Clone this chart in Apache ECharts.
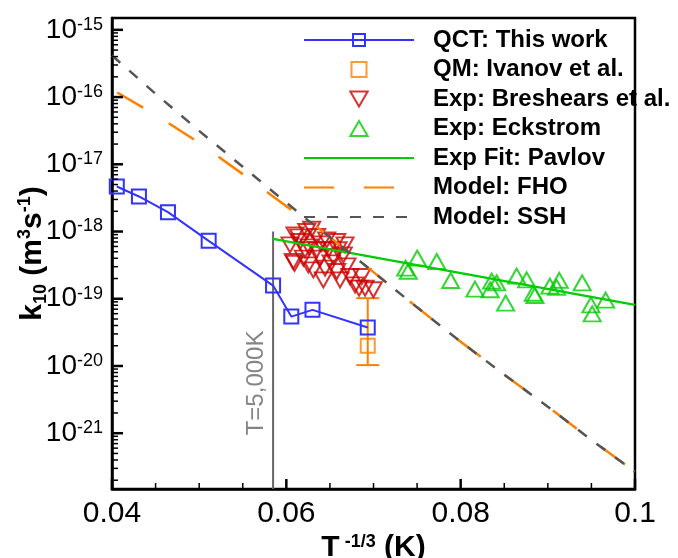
<!DOCTYPE html>
<html><head><meta charset="utf-8">
<script src="https://cdn.jsdelivr.net/npm/echarts@6/dist/echarts.min.js"></script>
<style>html,body{margin:0;padding:0;background:#fff}#c{width:678px;height:558px}</style>
</head><body><div id="c"></div>
<script>
const FONT = 'Liberation Sans';

// QCT: This work
const qctX = [0.04055, 0.04309, 0.04642, 0.05109, 0.05848, 0.06057, 0.06300, 0.06934];
const qctY = [4.67e-18, 3.32e-18, 1.94e-18, 7.27e-19, 1.57e-19, 5.43e-20, 6.84e-20, 3.73e-20];

// QM: Ivanov et al. (with error bar)
const qmX = [0.06934];
const qmY = [2.0e-20];
const qmLow = [1.03e-20];
const qmHigh = [1.02e-19];

// Exp: Breshears et al.
const bresX = [0.06100,0.06234,0.06291,0.06349,0.06157,0.06042,0.06463,0.06578,0.06673,0.06214,
               0.06349,0.06482,0.06080,0.06195,0.06386,0.06539,0.06654,0.06310,0.06444,0.06578,
               0.06616,0.06730,0.06788,0.06903,0.06424,0.06252,0.06865,0.06998,0.06834,0.06142,
               0.06094,0.06398,0.06260,0.06513,0.06696,0.06593];
const bresY = [8.93e-19,1.00e-18,1.08e-18,8.43e-19,7.10e-19,6.34e-19,7.52e-19,7.10e-19,6.34e-19,5.35e-19,
               5.35e-19,5.35e-19,3.58e-19,4.02e-19,4.02e-19,4.25e-19,4.50e-19,2.69e-19,2.85e-19,2.54e-19,
               1.91e-19,2.14e-19,1.61e-19,1.44e-19,1.91e-19,3.19e-19,2.14e-19,1.36e-19,1.44e-19,8.34e-19,
               3.36e-19,6.56e-19,5.92e-19,3.42e-19,3.09e-19,5.35e-19];

// Exp: Eckstrom
const eckX = [0.07369,0.07399,0.07502,0.07725,0.07885,0.08164,0.08356,0.08413,0.08339,0.08516,
              0.08642,0.08757,0.08833,0.08852,0.09024,0.09131,0.09101,0.09394,0.09494,0.09509,0.09663];
const eckY = [2.85e-19,2.56e-19,4.02e-19,3.58e-19,1.87e-19,1.39e-19,1.83e-19,1.72e-19,1.36e-19,8.6e-20,
              2.17e-19,1.91e-19,1.21e-19,1.12e-19,1.54e-19,1.88e-19,1.48e-19,1.72e-19,8.11e-20,5.96e-20,9.53e-20];

// Exp Fit: Pavlov
const pavX = [0.05848, 0.1];
const pavY = [7.78e-19, 8.11e-20];

// Model: FHO
const fhoX = [0.0406,0.045,0.05,0.055,0.06,0.0625,0.065,0.07,0.075,0.08,0.085,0.09,0.095,0.1];
const fhoY = [1.17e-16,5.43e-17,2.09e-17,7.14e-18,2.37e-18,1.46e-18,8.26e-19,2.49e-19,7.45e-20,2.3e-20,7.43e-21,2.48e-21,7.92e-22,2.68e-22];

// Model: SSH
const sshX = [0.04,0.045,0.05,0.055,0.06,0.0625,0.065,0.07,0.075,0.08,0.085,0.09,0.095,0.1];
const sshY = [4.16e-16,1.12e-16,3.14e-17,9.2e-18,2.69e-18,1.46e-18,8.26e-19,2.49e-19,7.45e-20,2.3e-20,7.43e-21,2.48e-21,7.92e-22,2.68e-22];

// T = 5,000 K marker line
const t5000X = [0.05848, 0.05848];
const t5000Y = [1.0e-18, 1.48e-22];
const t5000LabelPos = [0.05848, 5.5e-21];

// axis ranges and ticks
const X_MIN = 0.04, X_MAX = 0.1, X_STEP = 0.02;
const Y_MIN = 1.48e-22, Y_MAX = 1.5e-15;
const xMajorTicks = [0.04, 0.06, 0.08, 0.1];
const xMinorTicks = [0.045, 0.05, 0.055, 0.065, 0.07, 0.075, 0.085, 0.09, 0.095];
const decadeExps = [-22, -21, -20, -19, -18, -17, -16, -15];
const minorMantissas = [2, 3, 4, 5, 6, 7, 8, 9];

const legendNames = ['QCT: This work','QM: Ivanov et al.','Exp: Breshears et al.','Exp: Eckstrom','Exp Fit: Pavlov','Model: FHO','Model: SSH'];

const zip = (xs, ys) => xs.map((x, i) => [x, ys[i]]);
const CLEAR = 'rgba(0,0,0,0)';
const BLUE = '#3333ff', ORANGE = '#ff8000', RED = '#cc0000', GREEN = '#00cc00', GRAY = '#555555';

const yMajorVals = [], yMinorVals = [];
decadeExps.forEach(e => {
  const d = Math.pow(10, e);
  if (d > Y_MIN && d < Y_MAX) yMajorVals.push([X_MIN, d]);
  minorMantissas.forEach(m => {
    const v = m * d;
    if (v > Y_MIN && v < Y_MAX) yMinorVals.push([X_MIN, v]);
  });
});
const xMajorVals = xMajorTicks.map(v => [v, Y_MIN]);
const xMinorVals = xMinorTicks.map(v => [v, Y_MIN]);

// tick renderer: dir 'x' = tick on bottom axis pointing up, 'y' = tick on left axis pointing right
function tickSeries(name, data, dir, len, width) {
  return {name, type: 'custom', data, silent: true, clip: false, z: 6,
    renderItem: (params, api) => {
      const p = api.coord([api.value(0), api.value(1)]);
      const shape = dir === 'x' ? {x1: p[0], y1: p[1], x2: p[0], y2: p[1] - len}
                                : {x1: p[0], y1: p[1], x2: p[0] + len, y2: p[1]};
      return {type: 'line', shape, style: {stroke: '#000', lineWidth: width}};
    }};
}

const ICON_SQUARE = 'path://M0,0H12V12H0Z';
const ICON_UP = 'path://M10,0L20,17.3L0,17.3Z';
const ICON_DOWN = 'path://M0,0L20,0L10,17.3Z';
const legendData = legendNames.map(n => {
  if (n === 'QM: Ivanov et al.') return {name: n, icon: ICON_SQUARE};
  if (n === 'Exp: Breshears et al.') return {name: n, icon: ICON_DOWN};
  if (n === 'Exp: Eckstrom') return {name: n, icon: ICON_UP};
  return {name: n};
});

const chart = echarts.init(document.getElementById('c'), null, {renderer: 'canvas'});
const option = {
  animation: false,
  grid: {left: 112, right: 43, top: 18, bottom: 69, show: true, borderColor: '#000', borderWidth: 2.5,
         backgroundColor: CLEAR, outerBoundsMode: 'none', containLabel: false},
  legend: {
    data: legendData, orient: 'vertical', left: 303, top: 28, padding: 0,
    itemWidth: 110, itemHeight: 15, itemGap: 5.5, selectedMode: false, symbolKeepAspect: true,
    textStyle: {fontSize: 24, fontWeight: 'bold', fontFamily: FONT, color: '#000', lineHeight: 24, padding: [0, 0, 0, 14]}
  },
  xAxis: {
    type: 'value', min: X_MIN, max: X_MAX, interval: X_STEP,
    axisLine: {show: true, lineStyle: {color: '#000', width: 2.5}},
    axisTick: {show: false},
    minorTick: {show: false},
    splitLine: {show: false},
    axisLabel: {fontSize: 30, color: '#000', fontFamily: FONT, margin: 10},
    name: '{b|T}{sup| -1/3}{b| (K)}', nameLocation: 'middle', nameGap: 44, nameMoveOverlap: false,
    nameTextStyle: {rich: {
      b: {fontSize: 30, fontWeight: 'bold', fontFamily: FONT, color: '#000', lineHeight: 30, verticalAlign: 'bottom'},
      sup: {fontSize: 18, fontWeight: 'bold', fontFamily: FONT, color: '#000', lineHeight: 18, verticalAlign: 'top'}
    }}
  },
  yAxis: {
    type: 'log', logBase: 10, min: Y_MIN, max: Y_MAX, splitNumber: 7,
    axisLine: {show: true, lineStyle: {color: '#000', width: 2.5}},
    axisTick: {show: false},
    minorTick: {show: false},
    splitLine: {show: false},
    axisLabel: {
      showMinLabel: false, showMaxLabel: false, margin: 9,
      formatter: v => { const e = Math.log10(v); const r = Math.round(e); if (Math.abs(e - r) > 1e-6) return ''; return '{b|10}{s|' + r + '}'; },
      rich: {
        b: {fontSize: 28, lineHeight: 28, fontFamily: FONT, color: '#000', verticalAlign: 'middle'},
        s: {fontSize: 18, lineHeight: 18, fontFamily: FONT, color: '#000', verticalAlign: 'top'}
      }
    },
    name: '{b|k}{sub|10}{b| (m}{sup|3}{b|s}{sup|-1}{b|)}', nameLocation: 'middle', nameGap: 62, nameMoveOverlap: false,
    nameTextStyle: {rich: {
      b: {fontSize: 30, fontWeight: 'bold', fontFamily: FONT, color: '#000', lineHeight: 34, verticalAlign: 'middle'},
      sub: {fontSize: 18, fontWeight: 'bold', fontFamily: FONT, color: '#000', lineHeight: 18, verticalAlign: 'bottom'},
      sup: {fontSize: 18, fontWeight: 'bold', fontFamily: FONT, color: '#000', lineHeight: 18, verticalAlign: 'top'}
    }}
  },
  series: [
    tickSeries('xMajorTicks', xMajorVals, 'x', 10, 2.5),
    tickSeries('xMinorTicks', xMinorVals, 'x', 6, 1.5),
    tickSeries('yMajorTicks', yMajorVals, 'y', 11, 2.5),
    tickSeries('yMinorTicks', yMinorVals, 'y', 6, 1.5),
    {name: 'T5000', type: 'line', data: zip(t5000X, t5000Y), symbol: 'none', silent: true,
     lineStyle: {color: '#666', width: 2}, itemStyle: {color: '#666'}, z: 1},
    {name: 'T5000label', type: 'scatter', data: [t5000LabelPos], symbolSize: 1, itemStyle: {color: CLEAR}, silent: true,
     label: {show: true, formatter: 'T=5,000K', position: [-16, 0], rotate: 90, align: 'center', verticalAlign: 'middle',
             fontSize: 24, color: '#666', fontFamily: FONT}},
    {name: 'Exp: Breshears et al.', type: 'scatter', data: zip(bresX, bresY), symbol: 'triangle', symbolRotate: 180,
     symbolSize: [17, 15], itemStyle: {color: CLEAR, borderColor: RED, borderWidth: 2}},
    {name: 'Exp: Eckstrom', type: 'scatter', data: zip(eckX, eckY), symbol: 'triangle',
     symbolSize: [17, 15], itemStyle: {color: CLEAR, borderColor: GREEN, borderWidth: 2}},
    {name: 'QCT: This work', type: 'line', data: zip(qctX, qctY), symbol: 'rect', symbolSize: 14,
     lineStyle: {color: BLUE, width: 2}, itemStyle: {color: CLEAR, borderColor: BLUE, borderWidth: 2}},
    {name: 'QMerr', type: 'custom', data: qmX.map((x, i) => [x, qmLow[i], qmHigh[i]]),
     encode: {x: 0, y: [1, 2]}, silent: true,
     renderItem: (params, api) => {
       const x = api.value(0);
       const pLo = api.coord([x, api.value(1)]);
       const pHi = api.coord([x, api.value(2)]);
       const w = 11.5;
       const st = {stroke: ORANGE, lineWidth: 2};
       return {type: 'group', children: [
         {type: 'line', shape: {x1: pLo[0], y1: pLo[1], x2: pHi[0], y2: pHi[1]}, style: st},
         {type: 'line', shape: {x1: pLo[0] - w, y1: pLo[1], x2: pLo[0] + w, y2: pLo[1]}, style: st},
         {type: 'line', shape: {x1: pHi[0] - w, y1: pHi[1], x2: pHi[0] + w, y2: pHi[1]}, style: st}
       ]};
     }},
    {name: 'QM: Ivanov et al.', type: 'scatter', data: zip(qmX, qmY), symbol: 'rect', symbolSize: 14,
     itemStyle: {color: CLEAR, borderColor: ORANGE, borderWidth: 2}},
    {name: 'Exp Fit: Pavlov', type: 'line', data: zip(pavX, pavY), symbol: 'none',
     lineStyle: {color: GREEN, width: 2.5}, itemStyle: {color: CLEAR, borderColor: CLEAR, borderWidth: 0}},
    {name: 'Model: FHO', type: 'line', data: zip(fhoX, fhoY), symbol: 'none',
     lineStyle: {color: ORANGE, width: 2.5, type: [30, 30]}, itemStyle: {color: CLEAR, borderColor: CLEAR, borderWidth: 0}},
    {name: 'Model: SSH', type: 'line', data: zip(sshX, sshY), symbol: 'none',
     lineStyle: {color: GRAY, width: 2.5, type: [11, 12]}, itemStyle: {color: CLEAR, borderColor: CLEAR, borderWidth: 0}}
  ]
};
chart.setOption(option);
</script>
</body></html>
